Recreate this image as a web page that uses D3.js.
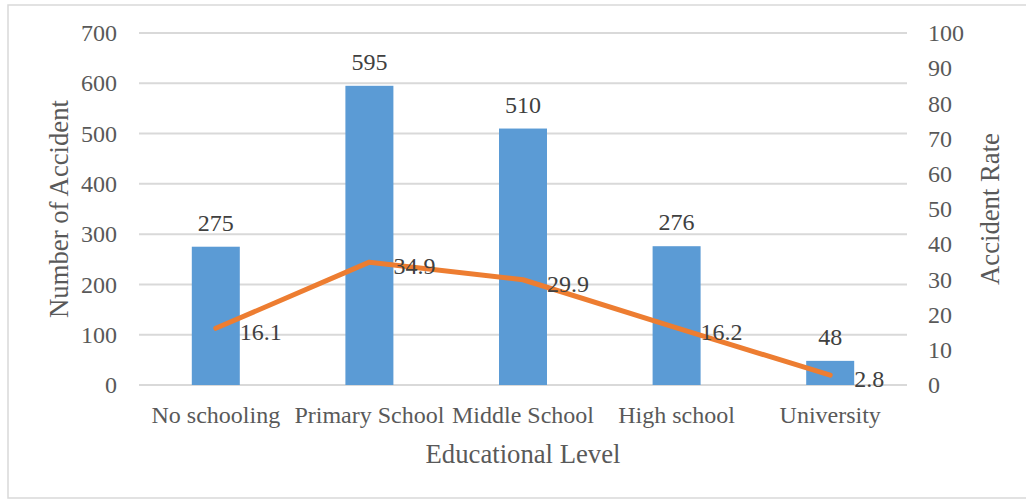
<!DOCTYPE html>
<html>
<head>
<meta charset="utf-8">
<script src="https://cdn.jsdelivr.net/npm/d3@7"></script>
<style>
  html, body { margin: 0; padding: 0; background: #fff; }
  svg { display: block; }
  text { font-family: "Liberation Serif", "Times New Roman", serif; }
</style>
</head>
<body>
<svg id="chart" width="1026" height="500"></svg>
<script>
const categories = ["No schooling", "Primary School", "Middle School", "High school", "University"];
const accidents = [275, 595, 510, 276, 48];
const rates = [16.1, 34.9, 29.9, 16.2, 2.8];
const leftTicks = [0, 100, 200, 300, 400, 500, 600, 700];
const rightTicks = [0, 10, 20, 30, 40, 50, 60, 70, 80, 90, 100];

const svg = d3.select("#chart");
const plot = { left: 139, right: 907, top: 33, bottom: 385 };

svg.append("rect").attr("x", 8).attr("y", 5).attr("width", 1030).attr("height", 493)
  .attr("fill", "#fff").attr("stroke", "#d9d9d9").attr("stroke-width", 1.5);

const x = d3.scaleBand().domain(categories).range([plot.left, plot.right]).paddingInner(0.6875).paddingOuter(0.34375);
const xc = d3.scaleBand().domain(categories).range([plot.left, plot.right]);
const yL = d3.scaleLinear().domain([0, 700]).range([plot.bottom, plot.top]);
const yR = d3.scaleLinear().domain([0, 100]).range([plot.bottom, plot.top]);

// gridlines
svg.append("g").selectAll("line").data(leftTicks).join("line")
  .attr("x1", plot.left).attr("x2", plot.right)
  .attr("y1", d => yL(d)).attr("y2", d => yL(d))
  .attr("stroke", "#d9d9d9").attr("stroke-width", 2);

// left axis labels
const gl = svg.append("g").attr("transform", `translate(${plot.left - 22},0)`)
  .call(d3.axisLeft(yL).tickValues(leftTicks).tickSize(0).tickPadding(0));
gl.select(".domain").remove();
gl.selectAll("text").attr("font-size", 24).attr("fill", "#595959")
  .style("font-family", "'Liberation Serif', serif");

// right axis labels
const gr = svg.append("g").attr("transform", `translate(928,0)`)
  .call(d3.axisRight(yR).tickValues(rightTicks).tickSize(0).tickPadding(0));
gr.select(".domain").remove();
gr.selectAll("text").attr("font-size", 24).attr("fill", "#595959")
  .style("font-family", "'Liberation Serif', serif");

// bars
svg.append("g").selectAll("rect").data(categories).join("rect")
  .attr("x", d => x(d)).attr("width", x.bandwidth())
  .attr("y", (d, i) => yL(accidents[i]))
  .attr("height", (d, i) => yL(0) - yL(accidents[i]))
  .attr("fill", "#5b9bd5");

// bar labels
svg.append("g").selectAll("text").data(categories).join("text")
  .attr("x", d => xc(d) + xc.bandwidth() / 2)
  .attr("y", (d, i) => yL(accidents[i]) - 24)
  .attr("text-anchor", "middle").attr("dominant-baseline", "central")
  .attr("font-size", 24).attr("fill", "#404040")
  .text((d, i) => accidents[i]);

// x axis category labels
const gx = svg.append("g").attr("transform", `translate(0,${plot.bottom + 21})`)
  .call(d3.axisBottom(xc).tickSize(0).tickPadding(0));
gx.select(".domain").remove();
gx.selectAll("text").attr("font-size", 24).attr("fill", "#595959")
  .style("font-family", "'Liberation Serif', serif");

// line
const line = d3.line()
  .x((d, i) => xc(categories[i]) + xc.bandwidth() / 2)
  .y(d => yR(d));
svg.append("path").datum(rates).attr("d", line)
  .attr("fill", "none").attr("stroke", "#ed7d31").attr("stroke-width", 5)
  .attr("stroke-linejoin", "round").attr("stroke-linecap", "round");

// line labels
svg.append("g").selectAll("text").data(rates).join("text")
  .attr("x", (d, i) => xc(categories[i]) + xc.bandwidth() / 2 + 24)
  .attr("y", d => yR(d) + 4)
  .attr("dominant-baseline", "central")
  .attr("font-size", 24).attr("fill", "#404040")
  .text(d => d.toFixed(1));

// axis titles
svg.append("text").attr("x", (plot.left + plot.right) / 2).attr("y", 454)
  .attr("text-anchor", "middle").attr("dominant-baseline", "central")
  .attr("font-size", 26.7).attr("fill", "#595959").text("Educational Level");

svg.append("text").attr("transform", `translate(59,${(plot.top + plot.bottom) / 2}) rotate(-90)`)
  .attr("text-anchor", "middle").attr("dominant-baseline", "central")
  .attr("font-size", 26.7).attr("fill", "#595959").text("Number of Accident");

svg.append("text").attr("transform", `translate(990,${(plot.top + plot.bottom) / 2}) rotate(-90)`)
  .attr("text-anchor", "middle").attr("dominant-baseline", "central")
  .attr("font-size", 26.7).attr("fill", "#595959").text("Accident Rate");
</script>
</body>
</html>
